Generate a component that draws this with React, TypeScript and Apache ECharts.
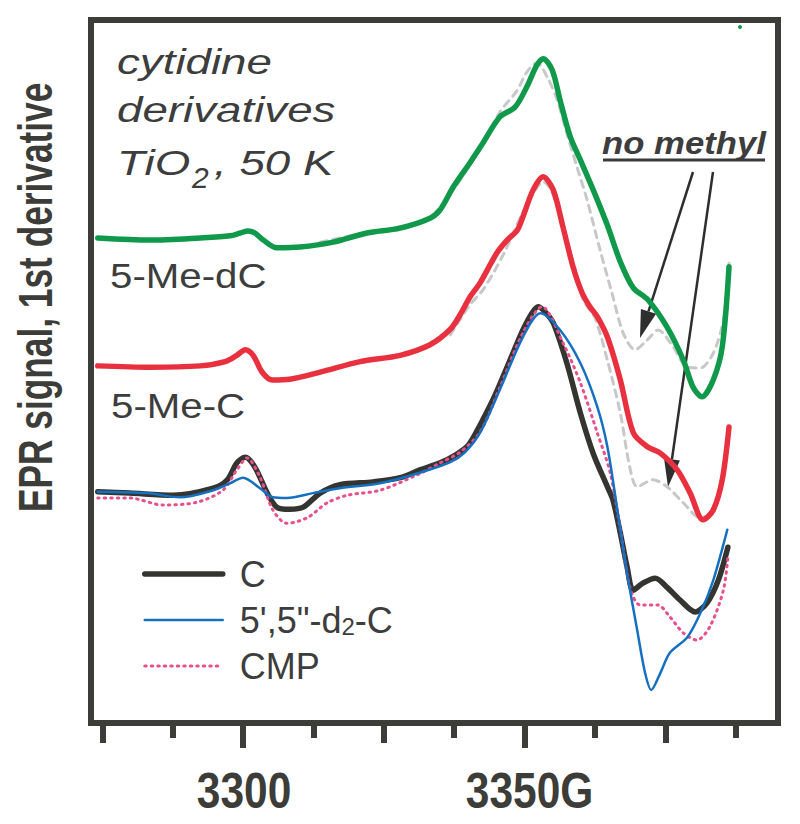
import React, { useEffect, useRef } from 'react';
import * as echarts from 'echarts';

// ---- axis ----
const fieldMin = 3273;
const fieldMax = 3395;
const majorTicks = [3300, 3350];
const midTicks = [3275, 3325, 3375];
const minorTicks = [3287.5, 3312.5, 3337.5, 3362.5, 3387.5];
const tickLabels = ['3300', '3350G'];

// ---- spectra: [field (G), signal (a.u.)] ----
const curveC: [number, number][] = [
  [3274.2, 32.9], [3279.9, 32.7], [3287.6, 32.4], [3294.7, 33.4], [3297.2, 34.6], [3298.9, 37.0],
  [3300.4, 37.8], [3302.1, 36.4], [3304.3, 32.7], [3306.0, 30.7], [3308.3, 30.4], [3310.7, 30.7],
  [3313.7, 32.7], [3317.2, 33.9], [3323.1, 34.3], [3327.9, 34.9], [3331.4, 36.0], [3335.0, 37.0],
  [3337.7, 38.1], [3340.0, 39.5], [3342.1, 42.4], [3344.8, 46.7], [3347.4, 51.6], [3349.7, 55.9],
  [3351.3, 58.3], [3352.4, 59.2], [3353.6, 58.5], [3355.1, 56.9], [3357.5, 51.2], [3359.9, 44.1],
  [3362.2, 38.3], [3364.7, 33.6], [3365.7, 31.7], [3367.0, 27.0], [3368.2, 22.2], [3369.3, 18.9],
  [3371.0, 19.9], [3373.2, 20.6], [3375.3, 19.3], [3377.6, 17.5], [3380.3, 15.8], [3382.4, 17.1],
  [3384.4, 20.3], [3386.1, 25.0],
];

const curveD2C: [number, number][] = [
  [3274.2, 32.9], [3283.0, 32.7], [3288.8, 32.1], [3294.7, 33.1], [3297.7, 34.1], [3300.0, 34.9],
  [3303.0, 33.4], [3305.3, 32.1], [3307.8, 32.0], [3312.4, 32.7], [3317.2, 33.4], [3324.3, 34.1],
  [3331.4, 35.6], [3336.8, 37.1], [3339.4, 38.5], [3342.1, 41.3], [3345.6, 47.4], [3349.7, 54.9],
  [3352.8, 58.3], [3356.3, 55.9], [3359.9, 51.2], [3362.9, 45.0], [3364.7, 39.3], [3366.4, 30.7],
  [3368.2, 21.3], [3370.0, 13.2], [3371.4, 7.1], [3372.5, 4.7], [3374.1, 7.1], [3375.8, 10.0],
  [3378.9, 12.2], [3381.2, 15.6], [3383.5, 20.3], [3386.0, 27.5],
];

const curveCMP: [number, number][] = [
  [3274.2, 32.0], [3279.9, 32.0], [3285.8, 31.0], [3291.8, 31.4], [3296.4, 33.1], [3298.9, 36.0],
  [3300.7, 37.7], [3303.0, 35.0], [3305.3, 30.3], [3307.8, 28.4], [3311.4, 29.2], [3314.9, 31.3],
  [3318.5, 32.4], [3324.3, 33.1], [3330.9, 35.3], [3335.0, 37.0], [3338.5, 38.5], [3342.1, 41.4],
  [3345.6, 47.7], [3349.7, 55.5], [3353.1, 59.2], [3356.8, 54.1], [3359.9, 48.4], [3362.9, 41.3],
  [3365.2, 35.6], [3367.0, 27.5], [3368.7, 19.3], [3370.5, 16.8], [3373.6, 16.8], [3375.8, 15.1],
  [3378.2, 12.8], [3380.6, 11.8], [3382.9, 13.7], [3385.3, 18.9], [3386.1, 23.6],
];

const curve5MedC: [number, number][] = [
  [3274.2, 69.0], [3283.5, 68.7], [3292.4, 69.0], [3297.7, 69.3], [3299.5, 69.7], [3300.9, 70.0],
  [3302.1, 69.7], [3303.6, 68.7], [3306.0, 67.6], [3310.1, 67.7], [3316.0, 68.4], [3322.0, 69.7],
  [3327.9, 70.4], [3333.2, 71.8], [3335.0, 73.0], [3337.3, 76.2], [3340.3, 79.7], [3342.6, 82.5],
  [3345.6, 86.2], [3348.3, 87.6], [3350.4, 90.5], [3352.2, 93.6], [3353.3, 94.5], [3354.9, 92.9],
  [3356.3, 88.6], [3358.1, 83.4], [3359.9, 80.1], [3362.2, 75.8], [3364.7, 70.8], [3367.0, 65.6],
  [3369.3, 61.9], [3371.9, 60.2], [3375.3, 56.3], [3378.2, 51.6], [3379.9, 47.8], [3381.5, 46.4],
  [3383.5, 48.8], [3385.1, 53.5], [3386.3, 64.9],
];

const curve5MeC: [number, number][] = [
  [3274.2, 50.8], [3283.5, 50.6], [3292.4, 50.8], [3296.8, 51.4], [3298.9, 52.3], [3300.4, 53.1],
  [3301.8, 52.3], [3303.4, 49.9], [3305.2, 48.8], [3308.3, 48.9], [3313.7, 49.9], [3320.8, 51.4],
  [3327.9, 52.3], [3333.2, 53.8], [3336.8, 56.0], [3338.5, 58.0], [3340.3, 60.6], [3342.1, 62.6],
  [3345.1, 66.9], [3346.9, 68.7], [3348.7, 70.1], [3349.7, 72.0], [3351.5, 75.8], [3353.3, 77.7],
  [3355.1, 75.8], [3356.8, 70.6], [3358.6, 64.9], [3360.2, 61.2], [3361.6, 59.2], [3362.9, 57.8],
  [3364.7, 54.9], [3367.0, 48.8], [3369.3, 41.3], [3371.8, 39.3], [3374.1, 38.4], [3377.1, 36.0],
  [3379.4, 32.7], [3381.7, 28.9], [3383.5, 30.3], [3385.1, 34.6], [3386.3, 42.1],
];

// "no methyl" reference traces (grey dashed)
const refUpper: [number, number][] = [
  [3313.7, 68.4], [3320.8, 69.6], [3327.9, 70.6], [3333.2, 72.0], [3337.3, 75.8], [3340.3, 79.4],
  [3342.6, 82.5], [3345.6, 86.9], [3348.7, 90.0], [3350.4, 92.6], [3352.2, 93.9], [3354.0, 91.9],
  [3355.8, 88.6], [3357.5, 83.9], [3359.3, 79.1], [3361.1, 74.4], [3363.4, 67.3], [3365.5, 61.2],
  [3367.5, 55.5], [3369.6, 53.1], [3371.8, 54.5], [3373.7, 55.9], [3376.4, 53.5], [3378.9, 50.6],
  [3381.2, 50.5], [3383.5, 52.6], [3385.3, 57.3], [3386.3, 65.4],
];

const refMiddle: [number, number][] = [
  [3336.8, 55.2], [3340.3, 59.5], [3342.6, 61.6], [3346.2, 66.6], [3349.7, 72.7], [3351.9, 75.8],
  [3353.3, 77.0], [3354.9, 75.5], [3356.7, 70.8], [3358.6, 65.6], [3360.4, 60.2], [3362.5, 57.6],
  [3364.7, 51.6], [3367.0, 44.1], [3368.7, 36.3], [3370.0, 33.6], [3372.8, 34.6], [3375.3, 33.6],
  [3378.2, 31.3], [3381.2, 29.2], [3383.3, 30.0], [3385.1, 34.1], [3386.3, 41.7],
];

const legendNames = ['C', "5',5\"-d2-C", 'CMP'];

const INK = '#3c3c38';
const TEXT = '#3d3d3d';
const SANS = "'Liberation Sans', Arial, Helvetica, sans-serif";

function txt(x: number, baseline: number, text: string, size: number, opts: any = {}) {
  const { scaleX = 1, italic = false, bold = false, align = 'left', fill = TEXT, id } = opts;
  const el: any = {
    type: 'text',
    x,
    y: baseline - 0.3465 * size,
    scaleX,
    silent: true,
    style: {
      text,
      x: 0,
      y: 0,
      fontSize: size,
      fontFamily: SANS,
      fontStyle: italic ? 'italic' : 'normal',
      fontWeight: bold ? 'bold' : 'normal',
      fill,
      textAlign: align,
      align,
      textVerticalAlign: 'middle',
      verticalAlign: 'middle',
    },
  };
  if (id) el.id = id;
  return el;
}

function arrow(x1: number, y1: number, x2: number, y2: number) {
  const dx = x2 - x1;
  const dy = y2 - y1;
  const len = Math.hypot(dx, dy);
  const ux = dx / len, uy = dy / len;
  const nx = -uy, ny = ux;
  const hl = 28, hw = 8;
  const bx = x2 - hl * ux, by = y2 - hl * uy;
  return [
    { type: 'line', silent: true, shape: { x1, y1, x2: bx, y2: by }, style: { stroke: '#2e2e2e', lineWidth: 2.5 } },
    {
      type: 'polygon', silent: true,
      shape: { points: [[x2, y2], [bx + hw * nx, by + hw * ny], [bx - hw * nx, by - hw * ny]] },
      style: { fill: '#2e2e2e' },
    },
  ];
}

const tickAxis = (values: number[], length: number) => ({
  type: 'value',
  gridIndex: 0,
  position: 'bottom',
  min: fieldMin,
  max: fieldMax,
  axisLine: { show: false },
  splitLine: { show: false },
  axisTick: {
    show: true,
    inside: false,
    length,
    customValues: values,
    lineStyle: { color: INK, width: 6 },
  },
  axisLabel: { show: false },
});

export default function App() {
  const ref = useRef<HTMLDivElement>(null);

  useEffect(() => {
    if (!ref.current) return;
    const chart = echarts.init(ref.current, null, { renderer: 'svg' });

    const line = (name: string, data: [number, number][], color: string, width: number, type: any, z: number) => ({
      name,
      type: 'line',
      data,
      symbol: 'none',
      smooth: 0.3,
      silent: true,
      z,
      lineStyle: { color, width, type, cap: 'round', join: 'round' },
      itemStyle: { color },
    });

    const yLabel = {
      type: 'text',
      x: 35,
      y: 512,
      rotation: Math.PI / 2,
      scaleX: 0.72,
      silent: true,
      style: {
        text: 'EPR signal, 1st derivative',
        x: 0,
        y: 0,
        fontSize: 49,
        fontWeight: 'bold',
        fontFamily: SANS,
        fill: INK,
        textAlign: 'left',
        align: 'left',
        textVerticalAlign: 'middle',
        verticalAlign: 'middle',
      },
    };

    const baseGraphic: any[] = [
      yLabel,
      txt(117, 74, 'cytidine', 36, { italic: true, scaleX: 1.27 }),
      txt(117, 122, 'derivatives', 36, { italic: true, scaleX: 1.27 }),
      txt(117, 175, 'TiO', 36, { italic: true, scaleX: 1.27 }),
      txt(192, 188, '2', 30, { italic: true }),
      txt(214, 175, ', 50 K', 36, { italic: true, scaleX: 1.27 }),
      txt(110, 288, '5-Me-dC', 35, { scaleX: 1.15 }),
      txt(111, 418, '5-Me-C', 35, { scaleX: 1.15 }),
      txt(602, 154, 'no methyl', 31, { italic: true, bold: true, scaleX: 1.12 }),
      { type: 'line', silent: true, shape: { x1: 603, y1: 160, x2: 765, y2: 160 }, style: { stroke: '#3a3a3a', lineWidth: 3 } },
      ...arrow(693, 172, 640, 338),
      ...arrow(713, 172, 668, 487),
      { type: 'circle', silent: true, shape: { cx: 740, cy: 27, r: 2 }, style: { fill: '#10994a' } },
    ];

    const option: any = {
      animation: false,
      backgroundColor: '#ffffff',
      grid: {
        left: 91,
        right: 22,
        top: 20,
        bottom: 101,
        show: true,
        borderColor: INK,
        borderWidth: 6,
        backgroundColor: 'transparent',
      },
      xAxis: [tickAxis(majorTicks, 25), tickAxis(midTicks, 20), tickAxis(minorTicks, 15)],
      yAxis: {
        type: 'value',
        min: 0,
        max: 100,
        show: false,
      },
      legend: {
        data: legendNames,
        orient: 'vertical',
        left: 137,
        top: 551,
        itemWidth: 78,
        itemHeight: 2,
        itemGap: 10,
        selectedMode: false,
        itemStyle: { opacity: 0 },
        lineStyle: { width: 'inherit' },
        formatter: (name: string) =>
          name.indexOf('d2') >= 0 ? "{t|5',5\"-d}{s|2}{t|-C}" : `{t|${name}}`,
        textStyle: {
          fontSize: 36,
          color: TEXT,
          fontFamily: SANS,
          padding: [0, 0, 0, 12],
          rich: {
            t: { fontSize: 36, color: TEXT, fontFamily: SANS, lineHeight: 36 },
            s: { fontSize: 24, color: TEXT, fontFamily: SANS, lineHeight: 8, verticalAlign: 'bottom' },
          },
        },
      },
      series: [
        line('5-Me-dC no-methyl reference', refUpper, '#c8c8c8', 3, [7, 6], 1),
        line('5-Me-C no-methyl reference', refMiddle, '#c8c8c8', 3, [7, 6], 1),
        line('5-Me-dC', curve5MedC, '#10994a', 5.5, 'solid', 3),
        line('5-Me-C', curve5MeC, '#e8303e', 5.5, 'solid', 3),
        line('C', curveC, '#343431', 5.5, 'solid', 4),
        line('CMP', curveCMP, '#e8508c', 3, [1.5, 5], 5),
        line("5',5\"-d2-C", curveD2C, '#1570c2', 2.5, 'solid', 6),
      ],
      graphic: baseGraphic,
    };

    chart.setOption(option);

    // tick labels placed through the x scale (condensed bold face)
    const labelGraphic = majorTicks.map((v, i) => {
      const px = chart.convertToPixel({ xAxisIndex: 0 }, v) as number;
      const text = tickLabels[i];
      const shift = text.endsWith('G') ? 5 : 1;
      return txt(px + shift, 808, text, 50, { bold: true, scaleX: 0.85, align: 'center', fill: INK, id: 'tick-' + v });
    });
    chart.setOption({ graphic: [...baseGraphic, ...labelGraphic] });

    return () => chart.dispose();
  }, []);

  return (
    <div
      ref={ref}
      style={{ position: 'fixed', left: 0, top: 0, width: 800, height: 824, background: '#fff' }}
    />
  );
}
